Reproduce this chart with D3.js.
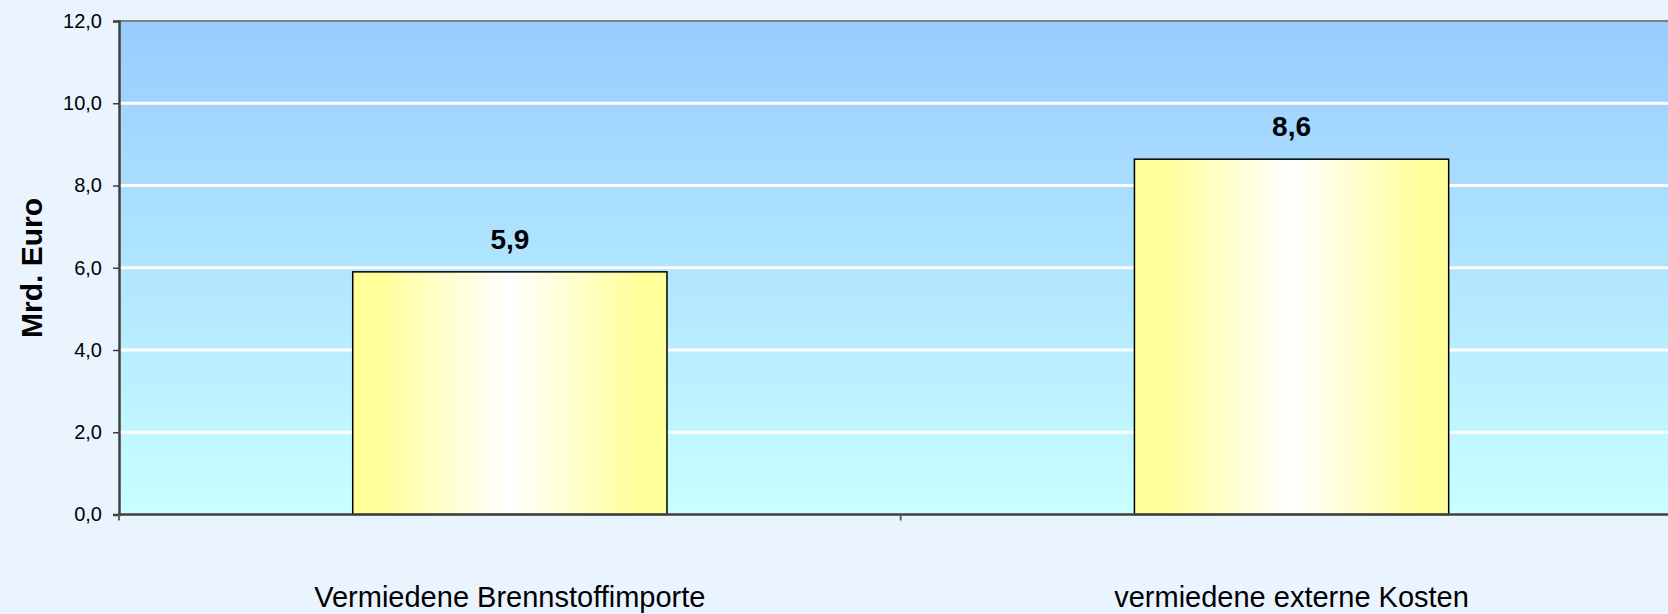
<!DOCTYPE html>
<html>
<head>
<meta charset="utf-8">
<script src="https://cdn.jsdelivr.net/npm/d3@7"></script>
<style>
  html, body { margin: 0; padding: 0; background: #eaf4fe; overflow: hidden; }
  svg { display: block; font-family: Arial, "Liberation Sans", Helvetica, sans-serif; }
</style>
</head>
<body>
<svg id="chart" width="1668" height="614"></svg>
<script>
const categories = ["Vermiedene Brennstoffimporte", "vermiedene externe Kosten"];
const values = [5.9, 8.64];
const yTicks = [0, 2, 4, 6, 8, 10, 12];
const yTitle = "Mrd. Euro";

const plotLeft = 119, plotTop = 21, plotBottom = 514.5;
const plotW = 1563.4;
const plotRight = plotLeft + plotW;

const svg = d3.select("#chart");
const fmt = v => d3.format(".1f")(v).replace(".", ",");

const defs = svg.append("defs");
const bg = defs.append("linearGradient").attr("id", "bgGrad")
  .attr("x1", 0).attr("y1", 0).attr("x2", 0).attr("y2", 1);
bg.append("stop").attr("offset", 0).attr("stop-color", "#99ccff");
bg.append("stop").attr("offset", 1).attr("stop-color", "#c8ffff");

const barG = defs.append("linearGradient").attr("id", "barGrad")
  .attr("x1", 0).attr("y1", 0).attr("x2", 1).attr("y2", 0);
[[0, "#ffff99"], [0.08, "#ffff99"], [0.5, "#ffffff"], [0.92, "#ffff99"], [1, "#ffff99"]]
  .forEach(([o, c]) => barG.append("stop").attr("offset", o).attr("stop-color", c));

const x = d3.scaleBand().domain(categories).range([plotLeft, plotRight]).paddingInner(0.598).paddingOuter(0.299);
const y = d3.scaleLinear().domain([0, 12]).range([plotBottom, plotTop]);

// plot background
svg.append("rect").attr("x", plotLeft).attr("y", plotTop).attr("width", plotW).attr("height", plotBottom - plotTop)
  .attr("fill", "url(#bgGrad)");

// gridlines
svg.append("g").selectAll("line").data(yTicks.filter(t => t > 0 && t < 12)).join("line")
  .attr("x1", plotLeft).attr("x2", plotRight)
  .attr("y1", d => y(d)).attr("y2", d => y(d))
  .attr("stroke", "#ffffff").attr("stroke-width", 3);

// top border
svg.append("line").attr("x1", plotLeft).attr("x2", plotRight).attr("y1", y(12)).attr("y2", y(12))
  .attr("stroke", "#808080").attr("stroke-width", 2);

// bars
svg.append("g").selectAll("rect").data(values).join("rect")
  .attr("x", (d, i) => x(categories[i]))
  .attr("y", d => y(d))
  .attr("width", x.bandwidth())
  .attr("height", d => y(0) - y(d))
  .attr("fill", "url(#barGrad)")
  .attr("stroke", "#000").attr("stroke-width", 1.5);

// value labels
svg.append("g").selectAll("text").data(values).join("text")
  .attr("x", (d, i) => x(categories[i]) + x.bandwidth() / 2)
  .attr("y", d => y(d) - 23)
  .attr("text-anchor", "middle")
  .attr("font-weight", "bold").attr("font-size", 28)
  .attr("fill", "#000")
  .text(d => fmt(d));

// y axis
const yAxis = svg.append("g").attr("transform", `translate(${plotLeft},0)`)
  .call(d3.axisLeft(y).tickValues(yTicks).tickFormat(fmt).tickSize(6).tickPadding(11));
yAxis.select(".domain").attr("stroke", "#404040").attr("stroke-width", 2.5);
yAxis.selectAll(".tick line").attr("stroke", "#404040").attr("stroke-width", 1.5);
yAxis.selectAll(".tick text").attr("font-size", 20).attr("fill", "#000")
  .attr("font-family", "Arial, 'Liberation Sans', sans-serif");

// x axis line
svg.append("line").attr("x1", plotLeft).attr("x2", plotRight).attr("y1", plotBottom).attr("y2", plotBottom)
  .attr("stroke", "#404040").attr("stroke-width", 2.5);
// category boundary ticks
const boundaries = d3.range(categories.length + 1).map(i => plotLeft + i * plotW / categories.length);
svg.append("g").selectAll("line").data(boundaries).join("line")
  .attr("x1", d => d).attr("x2", d => d).attr("y1", plotBottom).attr("y2", plotBottom + 6)
  .attr("stroke", "#606060").attr("stroke-width", 2);

// category labels
svg.append("g").selectAll("text").data(categories).join("text")
  .attr("x", d => x(d) + x.bandwidth() / 2)
  .attr("y", 607)
  .attr("text-anchor", "middle")
  .attr("font-size", 29).attr("fill", "#000")
  .text(d => d);

// y title
svg.append("text")
  .attr("transform", `translate(41.5,268) rotate(-90)`)
  .attr("text-anchor", "middle")
  .attr("font-weight", "bold").attr("font-size", 30)
  .attr("fill", "#000")
  .text(yTitle);
</script>
</body>
</html>
